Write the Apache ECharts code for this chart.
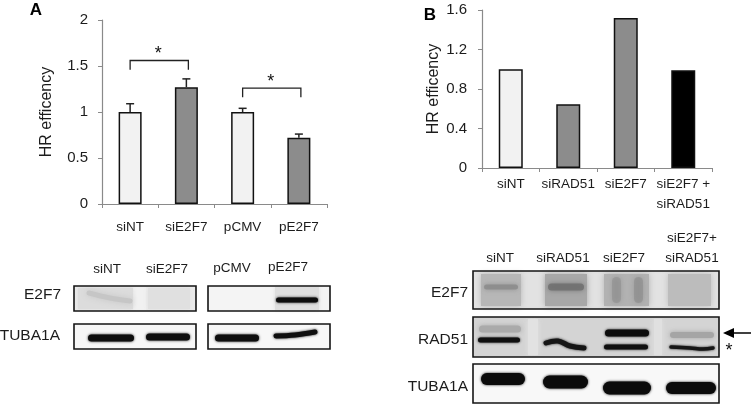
<!DOCTYPE html>
<html><head><meta charset="utf-8">
<style>html,body{margin:0;padding:0;background:#fff}#c{width:751px;height:404px}</style>
<script src="https://cdn.jsdelivr.net/npm/echarts@6/dist/echarts.min.js"></script>
</head><body><div id="c"></div>
<script>
// ---- data ----
const catsA = ['siNT','siE2F7','pCMV','pE2F7'];
const valsA = [1.0,1.27,1.0,0.72];
const errTopA = [1.09,1.36,1.04,0.76];
const colorsA = ['#f2f2f2','#8c8c8c','#f2f2f2','#8c8c8c'];
const bracketsA = [[0,1,1.56,1.46],[2,3,1.26,1.16]];
const catsB = ['siNT','siRAD51','siE2F7','siE2F7 +\nsiRAD51'];
const valsB = [1.0,0.645,1.52,0.99];
const colorsB = ['#f2f2f2','#8c8c8c','#8c8c8c','#000000'];

const FONT = '"Liberation Sans",Arial,sans-serif';
const INK = '#1c1c1c';

function axes(grid, cats, max, interval, nameGap, labelMargin, yMargin){
  return {
    x:{type:'category',gridIndex:grid,data:cats,
      axisLine:{lineStyle:{color:'#8a8a8a',width:1.2}},
      axisTick:{show:true,length:4,lineStyle:{color:'#8a8a8a'}},
      axisLabel:{color:INK,fontFamily:FONT,fontSize:13.5,margin:labelMargin,lineHeight:20,interval:0},
      splitLine:{show:false}},
    y:{type:'value',gridIndex:grid,min:0,max:max,interval:interval,
      name:'HR efficency',nameLocation:'middle',nameGap:nameGap,
      nameTextStyle:{color:INK,fontFamily:FONT,fontSize:16},
      axisLine:{show:true,lineStyle:{color:'#8a8a8a',width:1.2}},
      axisTick:{show:true,length:4,lineStyle:{color:'#8a8a8a'}},
      axisLabel:{color:INK,fontFamily:FONT,fontSize:15,margin:yMargin},
      splitLine:{show:false}}
  };
}
const a = axes(0,catsA,2,0.5,47,13,14);
const b = axes(1,catsB,1.6,0.4,40,6,15);

function barSeries(i,vals,colors,w){
  return {type:'bar',xAxisIndex:i,yAxisIndex:i,barWidth:w,silent:true,
    data:vals.map((v,k)=>({value:v,itemStyle:{color:colors[k],borderColor:'#111',borderWidth:1.5}}))};
}
const errorSeries = {type:'custom',xAxisIndex:0,yAxisIndex:0,silent:true,z:1,
  data:catsA.map((c,k)=>[k,valsA[k],errTopA[k]]),
  renderItem(p,api){
    const lo=api.coord([api.value(0),api.value(1)]), hi=api.coord([api.value(0),api.value(2)]);
    const st={stroke:'#222',lineWidth:1.5,fill:null};
    return {type:'group',children:[
      {type:'line',shape:{x1:lo[0],y1:lo[1],x2:hi[0],y2:hi[1]},style:st},
      {type:'line',shape:{x1:hi[0]-4,y1:hi[1],x2:hi[0]+4,y2:hi[1]},style:st}]};
  }};
const bracketSeries = {type:'custom',xAxisIndex:0,yAxisIndex:0,silent:true,z:3,
  data:bracketsA,
  renderItem(p,api){
    const l=api.coord([api.value(0),api.value(2)]), r=api.coord([api.value(1),api.value(2)]);
    const d=api.coord([api.value(0),api.value(3)]);
    const rx=r[0]+2;
    return {type:'group',children:[
      {type:'polyline',shape:{points:[[l[0],d[1]],[l[0],l[1]],[rx,l[1]],[rx,d[1]]]},style:{stroke:'#222',lineWidth:1.3,fill:null}},
      {type:'text',style:{x:(l[0]+rx)/2-1,y:l[1]-6,text:'*',fill:'#111',font:'18px '+FONT,align:'center',verticalAlign:'middle'}}]};
  }};

// ---- western-blot decoration (panel layout, not chart data) ----
const g=[];
function frame(x,y,w,h,bg){
  g.push({type:'rect',z:1,silent:true,shape:{x,y,width:w,height:h},style:{fill:bg||'#f1f1f1'}});
  g.push({type:'rect',z:4,silent:true,shape:{x,y,width:w,height:h},style:{fill:null,stroke:'#151515',lineWidth:1.6}});
}
function smear(x,y,w,h,col,blur,op){
  g.push({type:'rect',z:2,silent:true,shape:{x,y,width:w,height:h},
    style:{fill:col,shadowColor:col,shadowBlur:blur==null?5:blur,opacity:op==null?1:op}});
}
function band(x,y,w,h,col,blur,op){
  g.push({type:'rect',z:3,silent:true,shape:{x,y:y-h/2,width:w,height:h,r:h/2},
    style:{fill:col||'#111',shadowColor:col||'#111',shadowBlur:blur==null?2.5:blur,opacity:op==null?1:op}});
}
function curve(pts,lw,col,blur){
  g.push({type:'polyline',z:3,silent:true,shape:{points:pts,smooth:0.4},
    style:{stroke:col||'#111',lineWidth:lw,fill:null,lineCap:'round',shadowColor:col||'#111',shadowBlur:blur==null?2.5:blur}});
}
function label(x,y,t,align,size){
  g.push({type:'text',z:5,silent:true,style:{x,y,text:t,fill:INK,font:(size||13.5)+'px '+FONT,align:align||'center',verticalAlign:'middle'}});
}
g.push({type:'text',z:5,silent:true,style:{x:36,y:10,text:'A',fill:'#000',font:'bold 17px '+FONT,align:'center',verticalAlign:'middle'}});
g.push({type:'text',z:5,silent:true,style:{x:430,y:15,text:'B',fill:'#000',font:'bold 17px '+FONT,align:'center',verticalAlign:'middle'}});

// Panel A blots
label(107,269,'siNT');label(167,269,'siE2F7');label(232,268,'pCMV');label(288,267,'pE2F7');
label(61,295,'E2F7','right',15.5);label(60,336,'TUBA1A','right',15.5);
frame(74,286,122,25,'#eaeaea');
smear(133,287,13,23,'#f1f1f1',4);
smear(78,288,55,21,'#dcdcdc',4);
smear(148,288,42,21,'#e0e0e0',5);
curve([[89,293],[110,298],[130,301]],5,'#c6c6c6',6);
frame(208,286,122,25,'#f4f4f4');
smear(275,287,44,23,'#dedede',4);
band(276,300,42,5,'#0c0c0c');
frame(74,324,122,25,'#f7f7f7');
band(88,338,46,7,'#0e0e0e');band(146,337,44,7,'#0e0e0e');
frame(208,324,122,25,'#f7f7f7');
band(215,338,44,7,'#0e0e0e');
curve([[276,336],[295,335],[315,332]],5,'#0e0e0e');

// Panel B blots
label(500,258,'siNT');label(563,258,'siRAD51');label(624,258,'siE2F7');
label(692,238,'siE2F7+');label(692,258,'siRAD51');
label(468,293,'E2F7','right',15.5);label(468,340,'RAD51','right',15.5);label(468,387,'TUBA1A','right',15.5);
frame(473,271,246,38,'#e2e2e2');
smear(481,274,40,32,'#b7b7b7',6);smear(545,274,42,32,'#a8a8a8',6);
smear(604,274,45,32,'#b2b2b2',6);smear(668,274,43,32,'#bcbcbc',6);
band(484,287,34,5,'#8a8a8a',5,0.8);band(548,287,36,7,'#707070',5,0.85);
band(612,290,9,26,'#909090',5,0.6);band(634,290,9,26,'#8c8c8c',5,0.6);
frame(473,317,246,40,'#d4d4d4');
smear(528,319,10,36,'#e2e2e2',5);smear(654,319,8,36,'#e0e0e0',5);
band(479,329,42,7,'#aaaaaa',5);band(478,340,42,5,'#0f0f0f');
curve([[546,343],[558,341],[570,346],[584,348]],5,'#151515');
band(605,333,44,7,'#0c0c0c');band(604,347,44,5,'#111');
band(670,335,44,6,'#a5a5a5',5);curve([[671,347],[690,348],[703,349],[713,348]],3.5,'#161616');
frame(473,364,246,39,'#f8f8f8');
band(481,379,44,12,'#0b0b0b');band(543,382,45,13,'#0b0b0b');
band(603,388,48,13,'#0b0b0b');band(666,388,50,12,'#0b0b0b');
// arrow and asterisk
g.push({type:'line',z:5,silent:true,shape:{x1:733,y1:333,x2:751,y2:333},style:{stroke:'#000',lineWidth:1.5}});
g.push({type:'polygon',z:5,silent:true,shape:{points:[[723,333],[734,328],[734,338]]},style:{fill:'#000'}});
g.push({type:'text',z:5,silent:true,style:{x:729,y:351,text:'*',fill:'#111',font:'18px '+FONT,align:'center',verticalAlign:'middle'}});

const chart=echarts.init(document.getElementById('c'),null,{renderer:'canvas'});
chart.setOption({
  animation:false,backgroundColor:'#fff',
  grid:[{left:102,top:20,width:225,height:184},{left:482,top:10,width:230,height:158}],
  xAxis:[a.x,b.x],yAxis:[a.y,b.y],
  series:[errorSeries,barSeries(0,valsA,colorsA,23),bracketSeries,barSeries(1,valsB,colorsB,24)],
  graphic:g
});
</script></body></html>
